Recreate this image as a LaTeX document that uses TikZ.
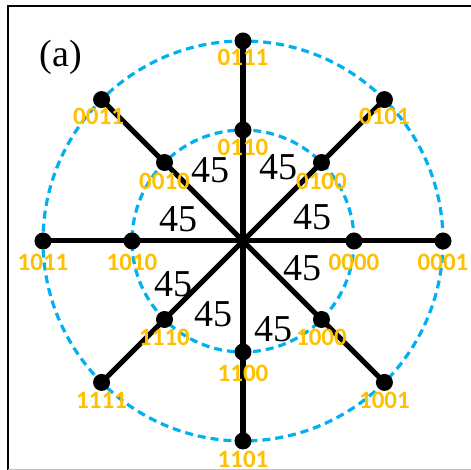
\documentclass[tikz,border=0pt]{standalone}
\usepackage{fontspec}
\setmainfont{Liberation Serif}
\newfontfamily\codefont{Carlito}
\usetikzlibrary{positioning}

\definecolor{ringblue}{HTML}{00B0F0}
\definecolor{codegold}{HTML}{FFC000}

\begin{document}
\begin{tikzpicture}[
      x=0.5pt, y=0.5pt,
      dot/.style={circle, fill=black, inner sep=0pt, minimum size=8.5pt},
      code/.style={text=codegold, font=\codefont\bfseries\fontsize{12.5}{12.5}\selectfont, inner sep=0pt},
      deg/.style={font=\fontsize{19}{19}\selectfont, inner sep=0pt},
      ring/.style={ringblue, line width=1.6pt, dash pattern=on 4pt off 2.5pt},
      spoke/.style={line width=2.5pt, shorten >=-4pt, shorten <=-4pt}
    ]
    \useasboundingbox (-243,241) rectangle (228,-229);
    % frame
    \draw[line width=1pt] (228,235) -- (-235,235) -- (-235,-229);
    \draw[black!25, line width=0.8pt] (-235,-228.5) -- (228,-228.5);

    \coordinate (c) at (0,0);
    \node[font=\fontsize{19}{19}\selectfont, inner sep=0pt] (tag) at (-182,184) {(a)};

    % rings
    \draw[ring] (c) circle[radius=200];
    \draw[ring] (c) circle[radius=111];

    % outer dots
    \node[dot] (n0111) at (90:200) {};
    \node[dot] (n0101) at (45:200) {};
    \node[dot] (n0001) at (0:200) {};
    \node[dot] (n1001) at (-45:200) {};
    \node[dot] (n1101) at (-90:200) {};
    \node[dot] (n1111) at (-135:200) {};
    \node[dot] (n1011) at (180:200) {};
    \node[dot] (n0011) at (135:200) {};

    % inner dots
    \node[dot] (n0110) at (90:111) {};
    \node[dot] (n0100) at (45:111) {};
    \node[dot] (n0000) at (0:111) {};
    \node[dot] (n1000) at (-45:111) {};
    \node[dot] (n1100) at (-90:111) {};
    \node[dot] (n1110) at (-135:111) {};
    \node[dot] (n1010) at (180:111) {};
    \node[dot] (n0010) at (135:111) {};

    \draw[spoke] (n0111) -- (n1101);
    \draw[spoke] (n0011) -- (n1001);
    \draw[spoke] (n0101) -- (n1111);
    \draw[spoke] (n1011) -- (n0001);

    % codes
    \node[code] (t0111) at ([yshift=-8pt]n0111) {0111};
    \node[code] (t0101) at ([yshift=-8.5pt]n0101) {0101};
    \node[code] (t0001) at ([yshift=-10.5pt]n0001) {0001};
    \node[code] (t1001) at ([yshift=-9pt]n1001) {1001};
    \node[code] (t1101) at ([yshift=-9pt]n1101) {1101};
    \node[code] (t1111) at ([yshift=-9pt]n1111) {1111};
    \node[code] (t1011) at ([yshift=-10.5pt]n1011) {1011};
    \node[code] (t0011) at ([xshift=-1.5pt, yshift=-8.5pt]n0011) {0011};
    \node[code] (t0110) at ([yshift=-8.5pt]n0110) {0110};
    \node[code] (t0100) at ([yshift=-9.5pt]n0100) {0100};
    \node[code] (t0000) at ([yshift=-10.5pt]n0000) {0000};
    \node[code] (t1000) at ([yshift=-9pt]n1000) {1000};
    \node[code] (t1100) at ([yshift=-10.5pt]n1100) {1100};
    \node[code] (t1110) at ([yshift=-9pt]n1110) {1110};
    \node[code] (t1010) at ([yshift=-10.5pt]n1010) {1010};
    \node[code] (t0010) at ([yshift=-9.5pt]n0010) {0010};

    % angles
    \node[deg] (a1) at (-32,71) {45};
    \node[deg] (a2) at (-64,22) {45};
    \node[deg] (a3) at (36,74) {45};
    \node[deg] (a4) at (69,24) {45};
    \node[deg] (a5) at (-69,-43) {45};
    \node[deg] (a6) at (-29,-73) {45};
    \node[deg] (a7) at (59,-27) {45};
    \node[deg] (a8) at (30,-88) {45};
  \end{tikzpicture}
\end{document}
